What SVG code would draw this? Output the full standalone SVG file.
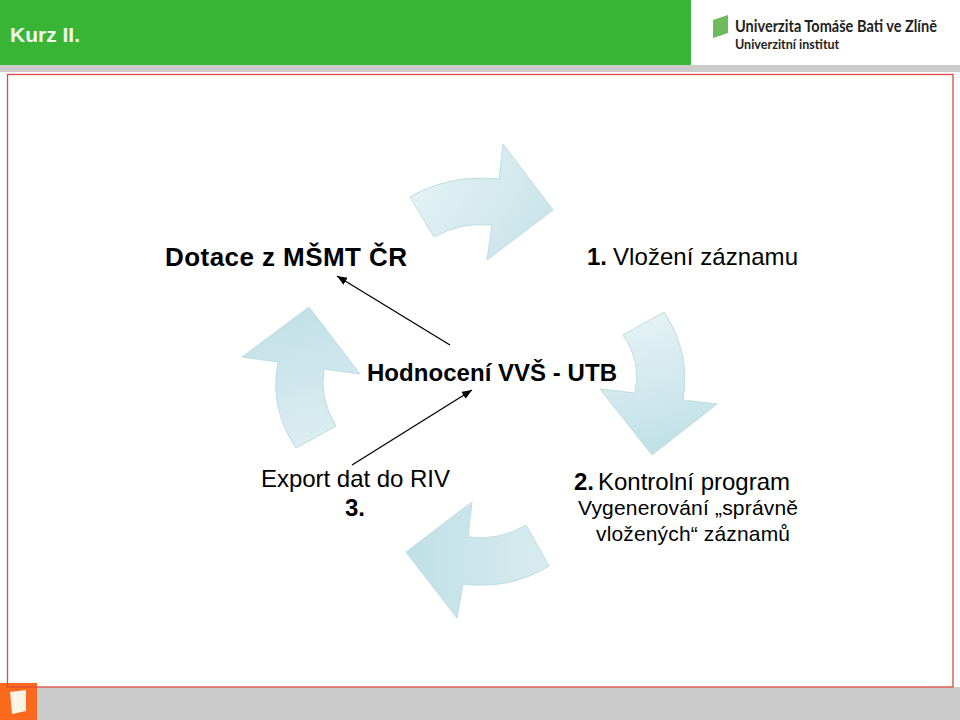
<svg xmlns="http://www.w3.org/2000/svg" width="960" height="720" viewBox="0 0 960 720">
<style>
text{font-family:"Liberation Sans",Arial,sans-serif;fill:#000}
.b{font-weight:700}
.arrow{stroke:#bcdde3;stroke-width:1;stroke-linejoin:round}
.logo{font-family:"Lato","Liberation Sans",sans-serif;font-weight:700;fill:#222}
.conn{stroke:#000;stroke-width:1.3;fill:none;marker-end:url(#head)}
</style>
<defs>
<linearGradient id="g1" x1="0" y1="0.2" x2="1" y2="0.7"><stop offset="0" stop-color="#e6f3f6"/><stop offset="1" stop-color="#c8e4e9"/></linearGradient>
<linearGradient id="g2" x1="0.3" y1="0" x2="0.5" y2="1"><stop offset="0" stop-color="#e6f3f6"/><stop offset="1" stop-color="#bfe0e6"/></linearGradient>
<linearGradient id="g3" x1="1" y1="0.5" x2="0" y2="0.5"><stop offset="0" stop-color="#d8ecf0"/><stop offset="1" stop-color="#bfe0e6"/></linearGradient>
<linearGradient id="g4" x1="0.6" y1="1" x2="0.4" y2="0"><stop offset="0" stop-color="#dceef2"/><stop offset="1" stop-color="#c0e0e6"/></linearGradient>
<marker id="head" markerUnits="userSpaceOnUse" markerWidth="11" markerHeight="9" refX="10" refY="4" orient="auto"><path d="M0 0L10 4L0 8Z" fill="#000"/></marker>
</defs>
<rect width="960" height="720" fill="#fff"/>
<g id="header">
<rect x="0" y="65" width="960" height="7" fill="#cccccc"/>
<path d="M0 0H691V65H0Z" fill="#39b536"/>
<text x="10" y="42" font-size="21" class="b" style="fill:#f2fbf0">Kurz II.</text>
</g>
<g id="logo">
<path d="M713 20L728 15V33L713 38Z" fill="#6dbb5a"/>
<text transform="translate(735 32) scale(.832 1)" font-size="17.5" class="logo">Univerzita Tomáše Bati ve Zlíně</text>
<text transform="translate(735 49) scale(.93 1)" font-size="13.5" class="logo">Univerzitní institut</text>
</g>
<g id="footer">
<rect x="0" y="687" width="960" height="33" fill="#cccccc"/>
<rect x="0" y="683" width="37" height="37" fill="#fb6a1c"/>
<path d="M10 692L26 690V711L12 714Z" fill="#fdf3e6"/>
</g>
<rect id="frame" x="7.5" y="74.5" width="945.5" height="612.5" fill="none" stroke="#dc4a42" stroke-width="1.3"/>
<g id="cycle-arrow-1"><path class="arrow" fill="url(#g1)" d="M410 197Q450 174 499 179L503 144L553 210L487 260L492 225Q460 222 434 237Z"/></g>
<g id="cycle-arrow-2"><path class="arrow" fill="url(#g2)" d="M664 312Q691 353 683 400L717 404L652 455L600 389L635 393Q642 361 623 335Z"/></g>
<g id="cycle-arrow-3"><path class="arrow" fill="url(#g3)" d="M549 566Q510 590 463 584L457 618L406 552L472 502L468 537Q500 541 526 525Z"/></g>
<g id="cycle-arrow-4"><path class="arrow" fill="url(#g4)" d="M296 448Q269 408 278 362L242 357L309 307L360 374L324 369Q319 399 336 426Z"/></g>
<g id="connectors">
<path class="conn" d="M450 345L337 276"/>
<path class="conn" d="M352 465L472 390"/>
</g>
<g id="node-dotace"><text x="165" y="266" font-size="26" class="b" textLength="242">Dotace z MŠMT ČR</text></g>
<g id="node-vlozeni"><text x="587" y="265" font-size="24" class="b">1.</text><text x="613" y="265" font-size="24" textLength="185">Vložení záznamu</text></g>
<g id="node-hodnoceni"><text x="367" y="381" font-size="24" class="b" textLength="250">Hodnocení VVŠ - UTB</text></g>
<g id="node-export"><text x="261" y="487" font-size="24" textLength="189">Export dat do RIV</text><text x="345" y="516" font-size="24" class="b">3.</text></g>
<g id="node-kontrolni"><text x="574" y="490" font-size="24" class="b">2.</text><text x="598" y="490" font-size="24" textLength="192">Kontrolní program</text><text x="578" y="515" font-size="21" textLength="220">Vygenerování „správně</text><text x="596" y="541" font-size="21" textLength="194">vložených“ záznamů</text></g>
</svg>
